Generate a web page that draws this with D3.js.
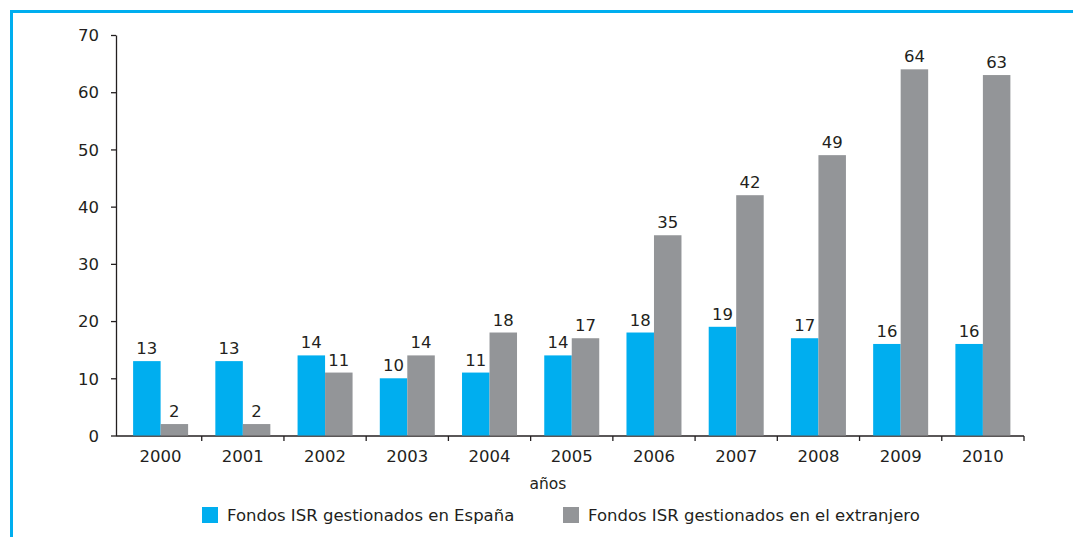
<!DOCTYPE html>
<html>
<head>
<meta charset="utf-8">
<script src="https://cdn.jsdelivr.net/npm/d3@7"></script>
<style>
  body { margin: 0; background: #fff; }
  svg text { font-family: "DejaVu Sans", "Liberation Sans", sans-serif; fill: #231f20; }
</style>
</head>
<body>
<script>
// chart data
var years = ["2000","2001","2002","2003","2004","2005","2006","2007","2008","2009","2010"];
var espana = [13, 13, 14, 10, 11, 14, 18, 19, 17, 16, 16];
var extranjero = [2, 2, 11, 14, 18, 17, 35, 42, 49, 64, 63];
var yTicks = [0, 10, 20, 30, 40, 50, 60, 70];
var seriesNames = ["Fondos ISR gestionados en España", "Fondos ISR gestionados en el extranjero"];

var width = 1073, height = 537;
var blue = "#00aeef", gray = "#939598";
var fs = "16.5px";

var svg = d3.select("body").append("svg")
    .attr("width", width)
    .attr("height", height);

// frame lines (top and left)
svg.append("line").attr("x1", 10).attr("x2", width).attr("y1", 11.5).attr("y2", 11.5)
    .attr("stroke", blue).attr("stroke-width", 3);
svg.append("line").attr("x1", 11.5).attr("x2", 11.5).attr("y1", 10).attr("y2", height)
    .attr("stroke", blue).attr("stroke-width", 3);

// scales
var x = d3.scaleBand().domain(years).range([119.5, 1024]);
var y = d3.scaleLinear().domain([0, 70]).range([435.5, 35]);
var barW = 27.5;

// y axis
var yAxis = svg.append("g")
    .attr("transform", "translate(116,0)")
    .call(d3.axisLeft(y).tickValues(yTicks).tickSize(5).tickSizeOuter(0).tickPadding(12));
yAxis.select(".domain").attr("stroke", "#231f20").attr("stroke-width", 1.3);
yAxis.selectAll(".tick line").attr("stroke", "#231f20").attr("stroke-width", 1.3);
yAxis.selectAll("text").style("font-size", fs).attr("dy", "0.35em");

// x axis line and boundary ticks
svg.append("line").attr("x1", 116).attr("x2", 1024).attr("y1", 436).attr("y2", 436)
    .attr("stroke", "#231f20").attr("stroke-width", 1.3);
var bounds = years.map(function(d){ return x(d) + x.bandwidth(); });
svg.selectAll(".xtick").data(bounds).enter().append("line")
    .attr("x1", function(d){ return d; }).attr("x2", function(d){ return d; })
    .attr("y1", 436).attr("y2", 441)
    .attr("stroke", "#231f20").attr("stroke-width", 1.3);
svg.selectAll(".xlab").data(years).enter().append("text")
    .attr("x", function(d){ return x(d) + x.bandwidth() / 2; })
    .attr("y", 462)
    .attr("text-anchor", "middle")
    .style("font-size", fs)
    .text(function(d){ return d; });

// bars
var groups = [
  { vals: espana, color: blue, off: -barW },
  { vals: extranjero, color: gray, off: 0 }
];
groups.forEach(function(g){
  svg.append("g").selectAll("rect").data(g.vals).enter().append("rect")
      .attr("x", function(d, i){ return x(years[i]) + x.bandwidth() / 2 + g.off; })
      .attr("y", function(d){ return y(d); })
      .attr("width", barW)
      .attr("height", function(d){ return y(0) - y(d); })
      .attr("fill", g.color);
  svg.append("g").selectAll("text").data(g.vals).enter().append("text")
      .attr("x", function(d, i){ return x(years[i]) + x.bandwidth() / 2 + g.off + barW / 2; })
      .attr("y", function(d){ return y(d) - 7; })
      .attr("text-anchor", "middle")
      .style("font-size", fs)
      .text(function(d){ return d; });
});

// axis title
svg.append("text").attr("x", 548).attr("y", 489).attr("text-anchor", "middle")
    .style("font-size", "15.5px").text("años");

// legend
var legX = [202, 563];
seriesNames.forEach(function(name, i){
  svg.append("rect").attr("x", legX[i]).attr("y", 507).attr("width", 16).attr("height", 16)
      .attr("fill", i === 0 ? blue : gray);
  svg.append("text").attr("x", legX[i] + 25).attr("y", 521)
      .style("font-size", fs).text(name);
});
</script>
</body>
</html>
